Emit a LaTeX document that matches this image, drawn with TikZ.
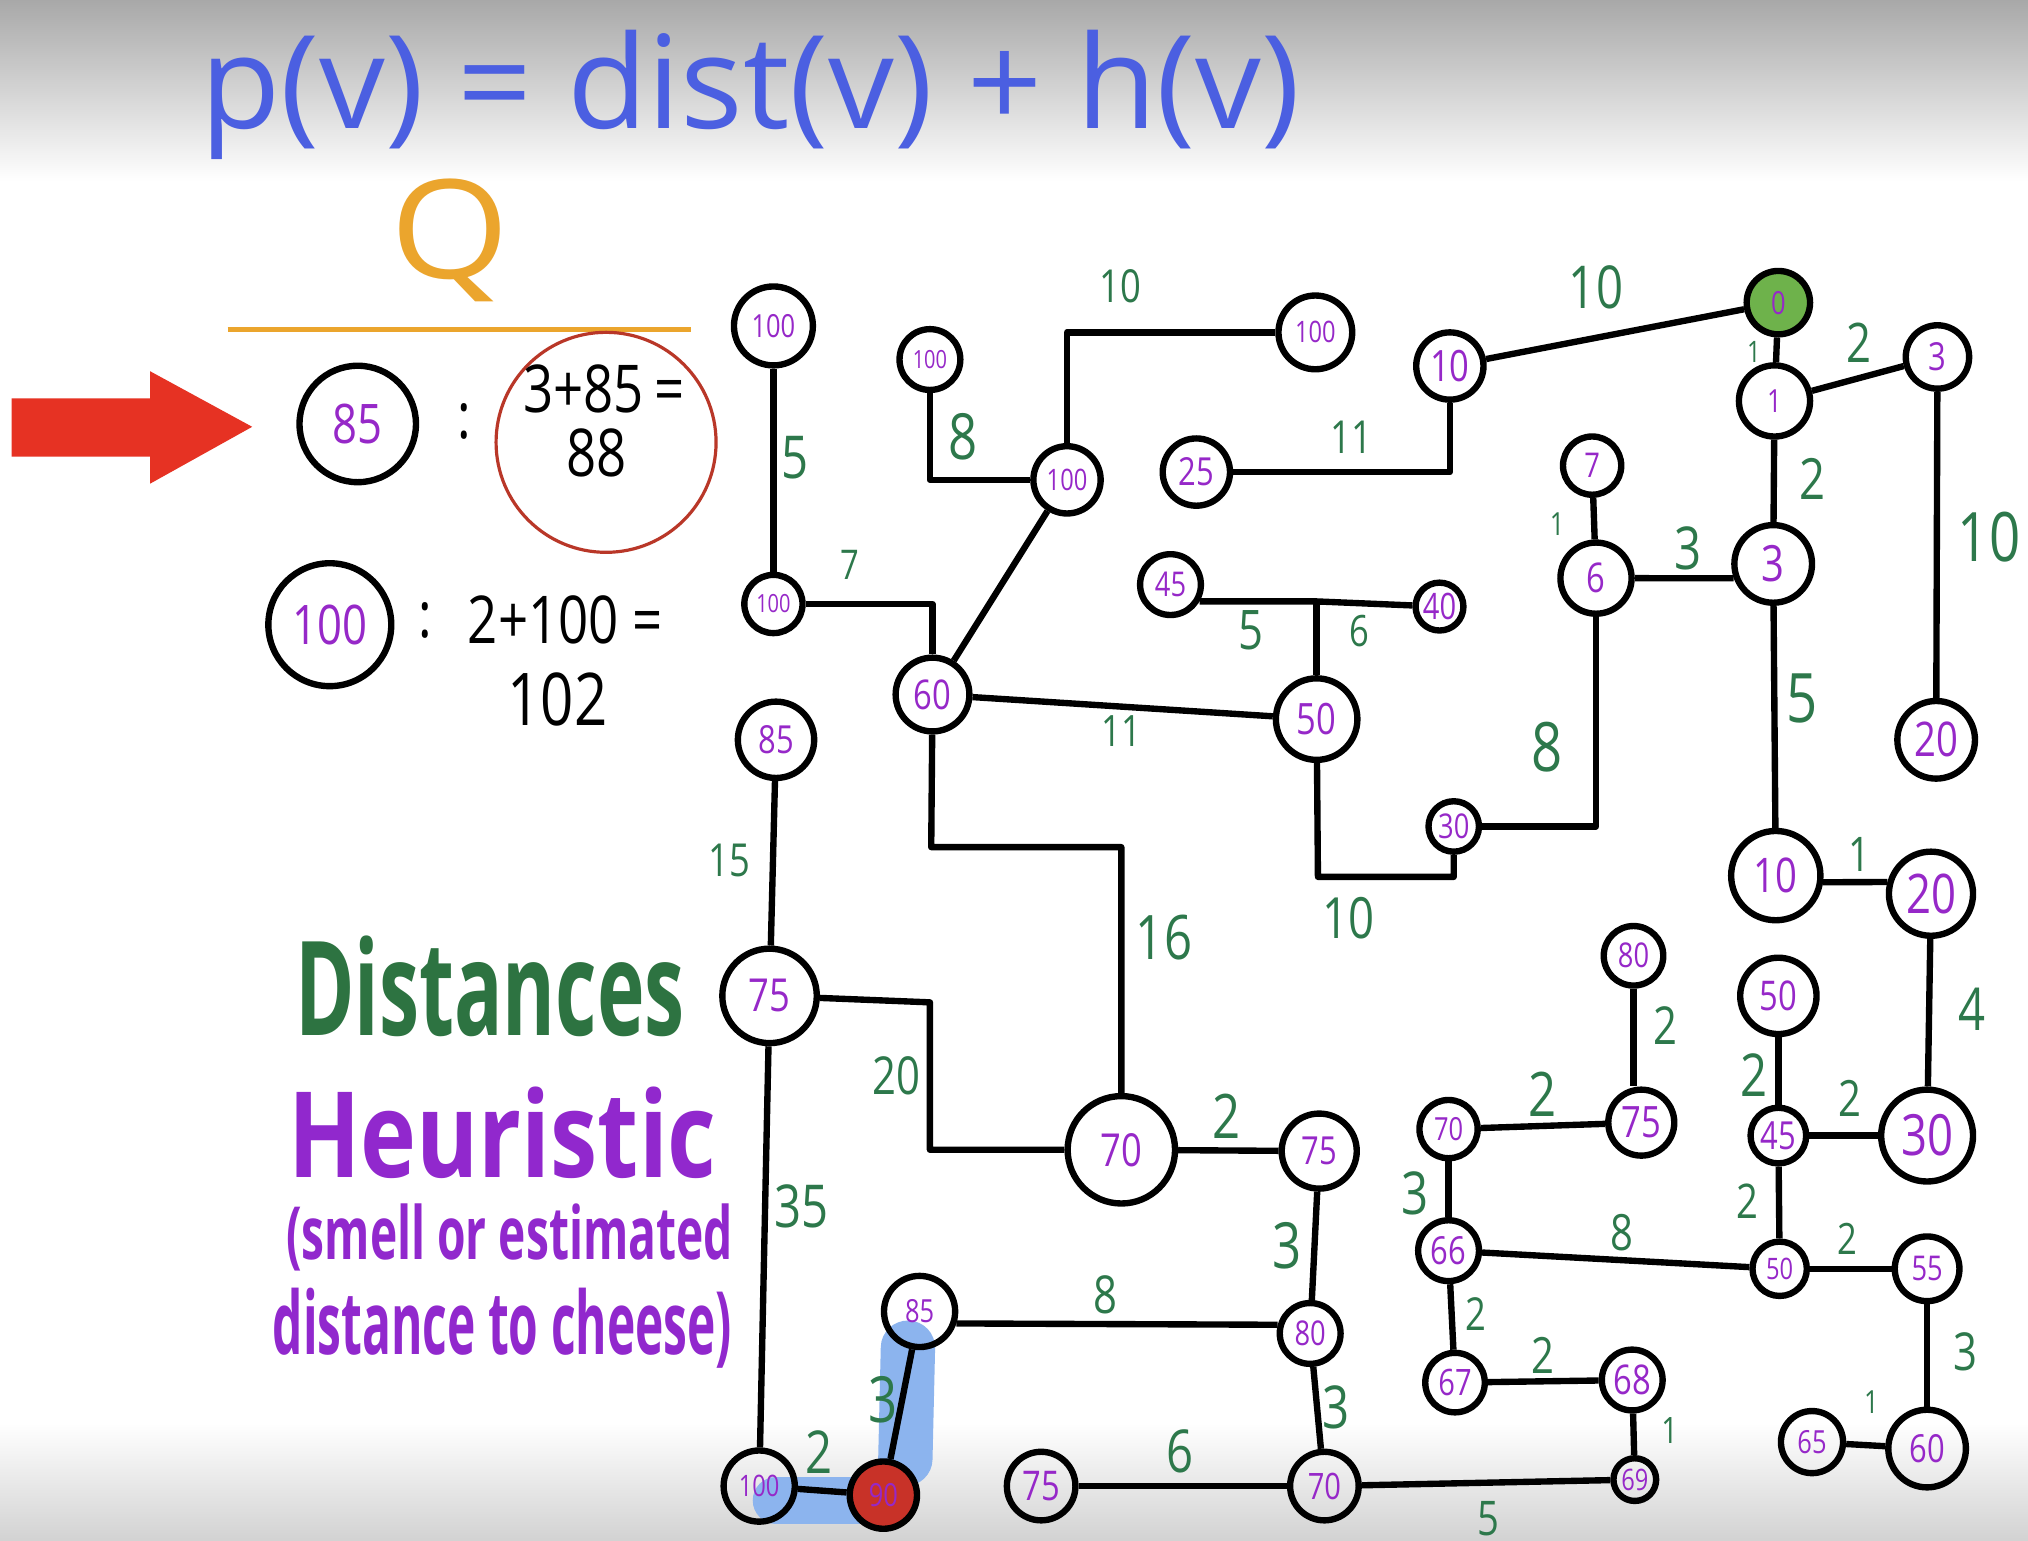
\documentclass[tikz,border=0pt]{standalone}
\usepackage{fontspec}
\usepackage{graphicx}
\setmainfont{Open Sans}
\newfontfamily\digitfont{Open Sans}[FakeStretch=0.8]
\definecolor{ndpurple}{RGB}{150,40,200}
\definecolor{lgreen}{RGB}{45,120,75}
\definecolor{distgreen}{RGB}{45,115,65}
\definecolor{heurpurple}{RGB}{145,40,205}
\definecolor{titleblue}{RGB}{75,95,225}
\definecolor{qorange}{RGB}{235,165,45}
\definecolor{arrowred}{RGB}{230,50,35}
\definecolor{circred}{RGB}{185,55,40}
\definecolor{startgreen}{RGB}{110,178,75}
\definecolor{stopred}{RGB}{200,50,40}
\definecolor{hlblue}{RGB}{140,180,238}
\tikzset{
  nd/.style 2 args={circle, draw=black, line width=1.4pt, inner sep=0pt,
    minimum size={(#1-2.5)*0.569pt}, text=ndpurple,
    font=\digitfont\fontsize{#2}{#2}\selectfont},
  lab/.style={text=lgreen, inner sep=0pt, font=\digitfont\fontsize{#1}{#1}\selectfont},
  hand/.style={text=black, inner sep=0pt, font=\digitfont\fontsize{#1}{#1}\selectfont},
  conn/.style={draw=black, line width=1.4pt, line join=round},
}
\begin{document}
\begin{tikzpicture}[x=0.01cm,y=-0.01cm]
\useasboundingbox (0,0) rectangle (1568,1191);
\fill[white] (0,0) rectangle (1568,1191);
\shade[top color=gray!68, bottom color=white] (0,0) rectangle (1568,140);
\shade[top color=white, bottom color=gray!35] (0,1100) rectangle (1568,1191);

% title
\node[inner sep=0pt, text=titleblue] (title) at (580,73) {\resizebox*{8.5cm}{1.0cm}{p(v) = dist(v) + h(v)}};

% queue
\node[inner sep=0pt, text=qorange] (qq) at (348,186) {\resizebox*{0.92cm}{0.95cm}{Q}};
\draw[qorange, line width=1.1pt] (176,255) -- (534,255);
\fill[arrowred] (9,308) -- (116,308) -- (116,287) -- (195,330) -- (116,374) -- (116,353) -- (9,353) -- cycle;
\node[nd={47.5}{12}] (q85) at (276.6,327.8) {85};
\node[nd={50}{12}] (q100) at (255,483) {100};
\node[circle, draw=circred, line width=0.7pt, minimum size=1.7cm, inner sep=0pt] (rc) at (468.6,342) {};
\node[hand=14] (c1) at (359,326) {:};
\node[hand=14.5] (t1) at (467,301) {3+85\,=};
\node[hand=14.5] (t2) at (461,350) {88};
\node[hand=14] (c2) at (329,480) {:};
\node[hand=14.5] (t3) at (437,479) {2+100 =};
\node[hand=16] (t4) at (431,541) {102};

% legend
\node[inner sep=0pt, text=distgreen] (dist) at (378.8,762.5) {\resizebox{3.01cm}{0.77cm}{\bfseries Distances}};
\node[inner sep=0pt, text=heurpurple] (heur) at (388.5,876) {\resizebox{3.31cm}{0.70cm}{\bfseries Heuristic}};
\node[inner sep=0pt, text=heurpurple] (heur2) at (393.9,957) {\resizebox*{3.45cm}{0.52cm}{\bfseries (smell or estimated}};
\node[inner sep=0pt, text=heurpurple] (heur3) at (388.5,1027) {\resizebox*{3.55cm}{0.62cm}{\bfseries distance to cheese)}};

% highlight of the path
\draw[hlblue, line width=0.36cm, line cap=round] (600,1160) -- (665,1160);
\draw[hlblue, line width=0.42cm, line cap=round] (702,1042) -- (700,1128);

% graph nodes
\node[nd={33}{7}] (A) at (598,252) {100};
\node[nd={26}{5.5}] (B) at (719,278) {100};
\node[nd={31}{6.5}] (C) at (1017,257) {100};
\node[nd={28.5}{9.5}] (D) at (1121,283) {10};
\node[nd={27}{7}, fill=startgreen] (E) at (1375,234) {0};
\node[nd={27}{8.5}] (F) at (1498,276) {3};
\node[nd={30}{7}] (G) at (1372,310) {1};
\node[nd={28.5}{6.5}] (H) at (825,371) {100};
\node[nd={28.5}{8.5}] (I) at (925,365) {25};
\node[nd={25}{7.5}] (J) at (1231,360) {7};
\node[nd={30}{9}] (K) at (1234,447) {6};
\node[nd={32.5}{11}] (L) at (1371,436) {3};
\node[nd={25}{5.5}] (M) at (598,467) {100};
\node[nd={26}{7.5}] (N) at (905,452) {45};
\node[nd={21}{8}] (O) at (1113,469) {40};
\node[nd={31}{9}] (P) at (721,537) {60};
\node[nd={34}{9.5}] (Q) at (1018,556) {50};
\node[nd={32}{8.5}] (R) at (600,572) {85};
\node[nd={32.5}{10.5}] (S) at (1497,572) {20};
\node[nd={22}{7.5}] (T) at (1124,639) {30};
\node[nd={37}{10.5}] (U) at (1373,677) {10};
\node[nd={35}{12}] (V) at (1493,691) {20};
\node[nd={25.5}{7.5}] (W) at (1263,739) {80};
\node[nd={39}{10}] (X) at (595,770) {75};
\node[nd={32}{9}] (Y) at (1375,770) {50};
\node[nd={44}{10}] (Z) at (867,889) {70};
\node[nd={31.5}{8.5}] (AA) at (1020,890) {75};
\node[nd={25}{7}] (AB) at (1120,873) {70};
\node[nd={28}{9.5}] (AC) at (1269,868) {75};
\node[nd={24}{8.5}] (AD) at (1375,878) {45};
\node[nd={38}{12.5}] (AE) at (1490,878) {30};
\node[nd={26}{8.5}] (AF) at (1120,967) {66};
\node[nd={23.5}{6.5}] (AG) at (1376,981) {50};
\node[nd={27.5}{7.5}] (AH) at (1490,981) {55};
\node[nd={30}{7}] (AI) at (711,1014) {85};
\node[nd={26}{7.5}] (AJ) at (1013,1031) {80};
\node[nd={25.5}{8}] (AK) at (1125,1069) {67};
\node[nd={26}{9}] (AL) at (1262,1067) {68};
\node[nd={26.5}{7}] (AM) at (1401,1115) {65};
\node[nd={32.5}{8.5}] (AN) at (1490,1120) {60};
\node[nd={30}{6.5}] (AO) at (587,1149) {100};
\node[nd={28.5}{7}, fill=stopred] (AP) at (683,1156) {90};
\node[nd={29}{9}] (AQ) at (805,1149) {75};
\node[nd={29}{8}] (AR) at (1024,1149) {70};
\node[nd={19}{6.5}] (AS) at (1264,1144) {69};

% corner points
\coordinate (nj) at (1018,465);
\coordinate (pz) at (720,655);
\coordinate (qt) at (1019,678);
\coordinate (xz1) at (719,775);
\coordinate (xz2) at (719,889);

% edges
\draw[conn] (A) -- (M);
\draw[conn] (B) |- (H);
\draw[conn] (H) |- (C);
\draw[conn] (I) -| (D);
\draw[conn] (D) -- (E);
\draw[conn] (E) -- (G);
\draw[conn] (G) -- (F);
\draw[conn] (G) -- (L);
\draw[conn] (F) -- (S);
\draw[conn] (J) -- (K);
\draw[conn] (K) -- (L.200);
\draw[conn] (L) -- (U);
\draw[conn] (K) |- (T);
\draw[conn] (M) -| (P);
\draw[conn] (P) -- (H);
\draw[conn] (P) -- (Q);
\draw[conn] (N.-30) -- (nj) -- (O);
\draw[conn] (nj) -- (Q);
\draw[conn] (P) -- (pz) -| (Z);
\draw[conn] (Q) -- (qt) -| (T);
\draw[conn] (U.-8) -- (V.165);
\draw[conn] (V) -- (AE);
\draw[conn] (R) -- (X);
\draw[conn] (X) -- (xz1) -- (xz2) -- (Z);
\draw[conn] (X) -- (AO);
\draw[conn] (Z) -- (AA);
\draw[conn] (AA) -- (AJ);
\draw[conn] (AI.-18) -- (AJ.165);
\draw[conn] (AJ) -- (AR);
\draw[conn] (AQ) -- (AR);
\draw[conn] (AO) -- (AP);
\draw[conn] (AI) -- (AP);
\draw[conn] (AR) -- (AS);
\draw[conn] (W) -- (W |- AC.north);
\draw[conn] (AB) -- (AC);
\draw[conn] (Y) -- (AD);
\draw[conn] (AD) -- (AE);
\draw[conn] (AB) -- (AF);
\draw[conn] (AF) -- (AG);
\draw[conn] (AD) -- (AG);
\draw[conn] (AG) -- (AH);
\draw[conn] (AF) -- (AK);
\draw[conn] (AK) -- (AL);
\draw[conn] (AL) -- (AS);
\draw[conn] (AH) -- (AN);
\draw[conn] (AM) -- (AN);

% edge labels
\node[lab=13] at (615,354) {5};
\node[lab=14] at (745,338) {8};
\node[lab=10] at (866,221) {10};
\node[lab=10] at (1045,338) {11};
\node[lab=9] at (657,437) {7};
\node[lab=12] at (967,487) {5};
\node[lab=9.5] at (1051,488) {6};
\node[lab=9.5] at (867,565) {11};
\node[lab=10] at (564,665) {15};
\node[lab=13.5] at (900,725) {16};
\node[lab=12.5] at (1043,710) {10};
\node[lab=13] at (1234,222) {10};
\node[lab=6.5] at (1356,272) {1};
\node[lab=12] at (1437,265) {2};
\node[lab=12.5] at (1401,370) {2};
\node[lab=15] at (1538,415) {10};
\node[lab=7] at (1204,405) {1};
\node[lab=13] at (1305,424) {3};
\node[lab=15] at (1393,540) {5};
\node[lab=15] at (1196,578) {8};
\node[lab=10.5] at (1438,661) {1};
\node[lab=11.5] at (693,832) {20};
\node[lab=13] at (620,933) {35};
\node[lab=13.5] at (948,863) {2};
\node[lab=14] at (995,963) {3};
\node[lab=11.5] at (855,1001) {8};
\node[lab=13] at (1033,1088) {3};
\node[lab=13] at (912,1122) {6};
\node[lab=13] at (633,1123) {2};
\node[lab=14] at (683,1082) {3};
\node[lab=13] at (1525,780) {4};
\node[lab=11.5] at (1288,793) {2};
\node[lab=13.5] at (1193,846) {2};
\node[lab=13] at (1356,831) {2};
\node[lab=11] at (1430,849) {2};
\node[lab=13] at (1094,923) {3};
\node[lab=11] at (1254,953) {8};
\node[lab=10.5] at (1351,929) {2};
\node[lab=9.5] at (1428,958) {2};
\node[lab=10] at (1141,1016) {2};
\node[lab=11] at (1193,1048) {2};
\node[lab=8] at (1291,1106) {1};
\node[lab=11.5] at (1520,1045) {3};
\node[lab=7] at (1447,1084) {1};
\node[lab=10.5] at (1151,1174) {5};
\end{tikzpicture}
\end{document}
